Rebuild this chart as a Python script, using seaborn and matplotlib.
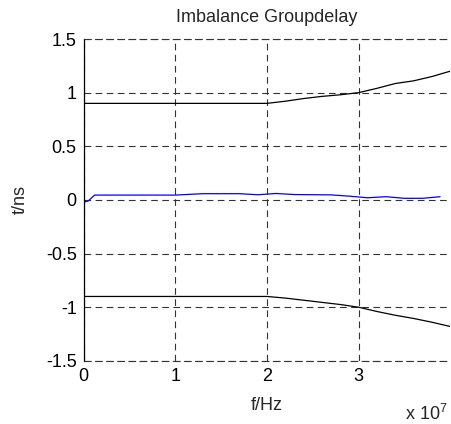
import numpy as np
import pandas as pd
import matplotlib
matplotlib.use("Agg")
import matplotlib.pyplot as plt
import seaborn as sns

# data (frequency in units of 1e7 Hz, delay in ns)
f_outer = [0, 1.0, 2.0, 2.2, 2.4, 2.6, 2.8, 3.0, 3.2, 3.4, 3.6, 3.8, 4.0]
upper = [0.9, 0.9, 0.9, 0.92, 0.945, 0.965, 0.98, 1.0, 1.04, 1.085, 1.11, 1.15, 1.2]
lower = [-0.9, -0.9, -0.9, -0.915, -0.935, -0.955, -0.975, -1.0, -1.04, -1.075, -1.105, -1.14, -1.18]
f_mid = [0, 0.05, 0.12, 0.5, 1.0, 1.3, 1.7, 1.9, 2.1, 2.3, 2.7, 2.9, 3.1, 3.3, 3.5, 3.7, 3.89]
mid = [-0.02, -0.01, 0.045, 0.045, 0.045, 0.058, 0.058, 0.048, 0.06, 0.05, 0.047, 0.035, 0.02, 0.03, 0.015, 0.015, 0.03]
xticks = [0, 1, 2, 3]
yticks = [-1.5, -1, -0.5, 0, 0.5, 1, 1.5]
ytick_labels = ["-1.5", "-1", "-0.5", "0", "0.5", "1", "1.5"]

sns.set_style("white")
plt.rcParams['font.family'] = ['Liberation Sans', 'DejaVu Sans']
plt.rcParams['mathtext.fontset'] = 'custom'
plt.rcParams['mathtext.rm'] = 'Liberation Sans'
plt.rcParams['mathtext.it'] = 'Liberation Sans'

fs = 13
dash = (0, (6, 4))
fig = plt.figure(figsize=(4.52, 4.24), dpi=100)
ax = fig.add_axes([0.185, 0.149, 0.811, 0.759])

ax.grid(True, color='#333333', linestyle=dash, linewidth=0.8)
ax.set_axisbelow(True)

sns.lineplot(x=f_outer, y=upper, color='black', linewidth=0.9, ax=ax)
sns.lineplot(x=f_outer, y=lower, color='black', linewidth=0.9, ax=ax)
sns.lineplot(x=f_mid, y=mid, color='#0000ff', linewidth=0.9, ax=ax)

ax.set_xlim(0, 4.0)
ax.set_ylim(-1.5, 1.5)
ax.set_xticks(xticks)
ax.set_xticklabels([str(t) for t in xticks])
ax.set_yticks(yticks)
ax.set_yticklabels(ytick_labels)
ax.tick_params(direction='in', length=3, labelsize=fs, colors='black')
ax.tick_params(axis='x', pad=5)
ax.tick_params(axis='y', pad=5)

ax.spines['right'].set_visible(False)
for s in ['top', 'bottom']:
    ax.spines[s].set_color('#333333')
    ax.spines[s].set_linewidth(0.8)
    ax.spines[s].set_linestyle(dash)
ax.spines['left'].set_color('black')
ax.spines['left'].set_linewidth(0.9)

ax.set_title('Imbalance Groupdelay', fontsize=fs, pad=12)
ax.set_xlabel('f/Hz', fontsize=fs, labelpad=9)
ax.set_ylabel('t/ns', fontsize=fs, labelpad=12)
fig.text(0.896, 0.01, r'x 10$^{7}$', fontsize=fs, va='baseline')

fig.savefig('out.png', dpi=100)
